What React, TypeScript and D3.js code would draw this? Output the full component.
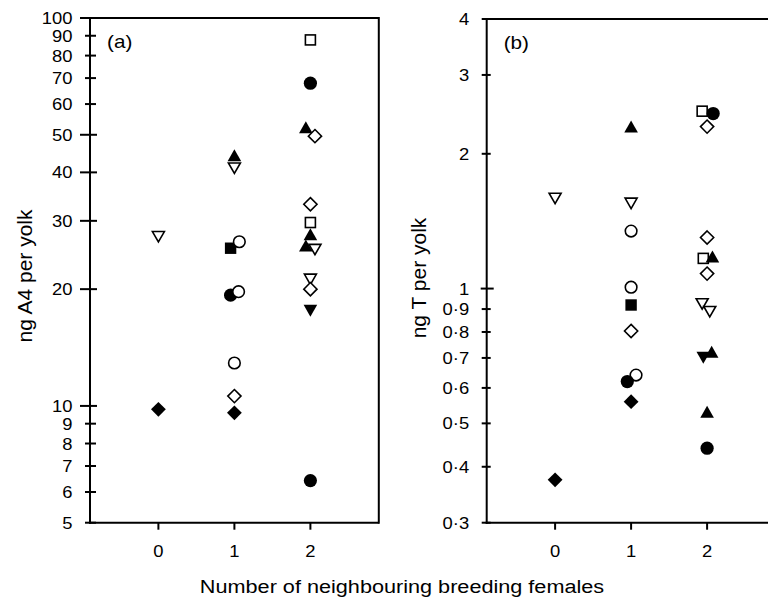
import React from "react";
import * as d3 from "d3";

// ---------- data ----------
// Panel (a): androstenedione (A4), ng per yolk
const a4X = [0, 0, 1, 1, 0.95, 1.065, 0.95, 1.055, 1, 1, 1, 2, 2, 1.94, 2.06, 2, 2, 2, 1.94, 2.06, 2, 2, 2, 2];
const a4Values = [27.3, 9.8, 44.3, 41.0, 25.5, 26.5, 19.3, 19.7, 12.9, 10.6, 9.6, 87.8, 67.9, 52.3, 49.6, 33.1, 29.7, 27.7, 25.9, 25.3, 21.2, 20.0, 17.6, 6.42];
const a4Markers = ["tdo", "df", "tuf", "tdo", "sf", "co", "cf", "co", "co", "do", "df", "so", "cf", "tuf", "do", "do", "so", "tuf", "tuf", "tdo", "tdo", "do", "tdf", "cf"];

// Panel (b): testosterone (T), ng per yolk
const tX = [0, 0, 1, 1, 1, 1, 1, 1, 1.065, 0.95, 1, 1.935, 2.08, 2, 2, 1.95, 2.07, 2, 1.935, 2.035, 1.95, 2.06, 2, 2];
const tValues = [1.59, 0.374, 2.3, 1.55, 1.344, 1.007, 0.919, 0.804, 0.641, 0.62, 0.559, 2.49, 2.46, 2.3, 1.3, 1.168, 1.18, 1.08, 0.924, 0.888, 0.701, 0.723, 0.531, 0.44];
const tMarkers = ["tdo", "df", "tuf", "tdo", "co", "co", "sf", "do", "co", "cf", "df", "so", "cf", "do", "do", "so", "tuf", "do", "tdo", "tdo", "tdf", "tuf", "tuf", "cf"];

const xCategories = [0, 1, 2];
const a4Ticks = [5, 6, 7, 8, 9, 10, 20, 30, 40, 50, 60, 70, 80, 90, 100];
const a4MajorTicks = [10, 20, 30, 40, 50, 100];
const tTicks = [0.3, 0.4, 0.5, 0.6, 0.7, 0.8, 0.9, 1, 2, 3, 4];
const tMajorTicks = [1];

const FONT = "'Liberation Sans', Arial, Helvetica, sans-serif";
const SX = 1.15;

function Marker({ kind, cx, cy }: { kind: string; cx: number; cy: number }) {
  const filled = kind.endsWith("f");
  const fill = filled ? "#000" : "#fff";
  const sw = 1.6;
  const shape = kind.slice(0, kind.length - 1);
  if (shape === "c") {
    return <circle cx={cx} cy={cy} r={filled ? 6.6 : 5.8} fill={fill} stroke="#000" strokeWidth={filled ? 0 : sw} />;
  }
  if (shape === "s") {
    const h = filled ? 5.7 : 5;
    return <rect x={cx - h} y={cy - h} width={2 * h} height={2 * h} fill={fill} stroke="#000" strokeWidth={filled ? 0 : sw} />;
  }
  if (shape === "d") {
    const h = filled ? 7.4 : 6.6;
    const p = d3.path();
    p.moveTo(cx, cy - h); p.lineTo(cx + h, cy); p.lineTo(cx, cy + h); p.lineTo(cx - h, cy); p.closePath();
    return <path d={p.toString()} fill={fill} stroke="#000" strokeWidth={filled ? 0 : sw} strokeLinejoin="miter" />;
  }
  // triangles
  const up = shape === "tu";
  const w = filled ? 6.8 : 6.0;
  const hh = filled ? 6.0 : 5.2;
  const p = d3.path();
  if (up) {
    p.moveTo(cx, cy - hh); p.lineTo(cx + w, cy + hh); p.lineTo(cx - w, cy + hh); p.closePath();
  } else {
    p.moveTo(cx - w, cy - hh); p.lineTo(cx + w, cy - hh); p.lineTo(cx, cy + hh); p.closePath();
  }
  return <path d={p.toString()} fill={fill} stroke="#000" strokeWidth={filled ? 0 : sw} strokeLinejoin="miter" />;
}

function Label({ x, y, anchor, size, children }: any) {
  return (
    <text transform={`translate(${x},${y}) scale(${SX},1)`} textAnchor={anchor} fontSize={size} fontFamily={FONT} fill="#000">
      {children}
    </text>
  );
}

function Panel({
  left, top, bottom, domain, ticks, majors, xs, vals, marks, fmt, tag, showRight,
  majorOut, majorIn, minorOut, minorIn,
}: any) {
  const x = d3.scaleLinear().domain([-0.9, 2.9]).range([left, left + 288.8]);
  const y = d3.scaleLog().domain(domain).range([bottom, top]);
  const right = x(2.9);
  const order = d3.range(vals.length);
  return (
    <g>
      {/* points */}
      {order.map((i) => (
        <Marker key={i} kind={marks[i]} cx={x(xs[i])} cy={y(vals[i])} />
      ))}
      {/* frame */}
      <line x1={left} x2={left} y1={top - 1} y2={bottom + 1} stroke="#000" strokeWidth={2} />
      <line x1={left - 1} x2={right} y1={bottom} y2={bottom} stroke="#000" strokeWidth={2} />
      <line x1={left - 1} x2={right} y1={top} y2={top} stroke="#000" strokeWidth={2} />
      {showRight && <line x1={right} x2={right} y1={top - 1} y2={bottom + 1} stroke="#000" strokeWidth={2} />}
      {/* y ticks */}
      {ticks.map((t: number) => {
        const major = majors.includes(t);
        const yy = y(t);
        return (
          <g key={t}>
            <line x1={left - (major ? majorOut : minorOut)} x2={left + (major ? majorIn : minorIn)} y1={yy} y2={yy} stroke="#000" strokeWidth={2} />
            <Label x={left - 17.5} y={yy + 6} anchor="end" size={16}>{fmt(t)}</Label>
          </g>
        );
      })}
      {/* x ticks */}
      {xCategories.map((c) => (
        <g key={c}>
          <line x1={x(c)} x2={x(c)} y1={bottom} y2={bottom + 7} stroke="#000" strokeWidth={2} />
          <Label x={x(c)} y={557} anchor="middle" size={16}>{String(c)}</Label>
        </g>
      ))}
      <Label x={left + 17} y={top + 30} anchor="start" size={18}>{tag}</Label>
    </g>
  );
}

export default function App() {
  const fmtA = (v: number) => String(v);
  const fmtT = (v: number) => (v < 1 ? "0·" + Math.round(v * 10) : String(v));
  return (
    <svg width={768} height={598} style={{ position: "absolute", left: 0, top: 0, background: "#fff" }}>
      <rect width={768} height={598} fill="#fff" />
      <Panel
        left={90} top={18} bottom={522.7} domain={[5, 100]} ticks={a4Ticks} majors={a4MajorTicks}
        xs={a4X} vals={a4Values} marks={a4Markers} fmt={fmtA} tag="(a)" showRight
        majorOut={10} majorIn={7} minorOut={5} minorIn={6}
      />
      <Panel
        left={486.7} top={19} bottom={522.7} domain={[0.3, 4]} ticks={tTicks} majors={tMajorTicks}
        xs={tX} vals={tValues} marks={tMarkers} fmt={fmtT} tag="(b)" showRight={false}
        majorOut={6} majorIn={7} minorOut={5} minorIn={4}
      />
      <text transform="translate(32,276) rotate(-90)" textAnchor="middle" fontSize={21} fontFamily={FONT}>ng A4 per yolk</text>
      <text transform="translate(426,278) rotate(-90)" textAnchor="middle" fontSize={21} fontFamily={FONT}>ng T per yolk</text>
      <text transform={`translate(402,593) scale(1.14,1)`} textAnchor="middle" fontSize={19} fontFamily={FONT}>Number of neighbouring breeding females</text>
    </svg>
  );
}
